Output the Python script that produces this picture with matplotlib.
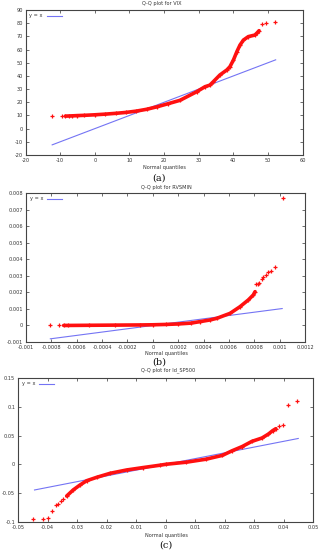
import matplotlib
matplotlib.use("Agg")
import matplotlib.pyplot as plt

W, H = 322, 550

# ---- panel (a): VIX ----
vix_x = [-12.3, -9.6, -8.5, -7.5, -6.5, -5, -3, 0, 3, 6, 9, 12, 15, 18, 21, 24.6,
         29.4, 31.8, 33.2, 34.2, 36.1, 38.1, 39.0, 40.0, 41.0, 41.9, 42.9, 44.3,
         46.2, 46.9, 47.4, 48.2, 49.4, 52.0]
vix_y = [9.4, 9.4, 9.5, 9.6, 9.7, 9.9, 10.1, 10.5, 11.0, 11.6, 12.3, 13.3, 14.7,
         16.6, 18.8, 21.5, 28.0, 31.8, 33.0, 35.6, 40.7, 44.5, 47.0, 52.0, 58.4,
         63.4, 67.2, 69.8, 71.0, 72.8, 74.3, 79.4, 80.4, 81.2]
vix_ref = [-12.3, 52.2]

# ---- panel (b): RVSMIN ----
rvs_x = [-0.000808, -0.000738, -0.000703, -0.00067, -0.0005, -0.0003, -0.0001, 0.0,
         0.0001, 0.0002, 0.0003, 0.000372, 0.00045, 0.000504, 0.000609, 0.000687,
         0.000753, 0.000792, 0.000806, 0.000814, 0.00083, 0.00084, 0.000858,
         0.000871, 0.000892, 0.00091, 0.000928, 0.000963, 0.001024]
rvs_y = [0.0, 0.0, 0.0, 0.0, 0.00001, 0.00002, 0.00003, 0.00004, 0.00006, 0.00009,
         0.00014, 0.00023, 0.00033, 0.00043, 0.00073, 0.00113, 0.00154, 0.00184,
         0.00204, 0.00250, 0.00252, 0.00255, 0.0028, 0.00294, 0.00307, 0.0032,
         0.0033, 0.00355, 0.0077]
rvs_ref = [-0.000808, 0.00102]

# ---- panel (c): ld_SP500 ----
sp_x = [-0.0448, -0.0414, -0.0397, -0.0384, -0.0372, -0.0363, -0.0355, -0.0346,
        -0.0335, -0.0313, -0.029, -0.0267, -0.0233, -0.0188, -0.0132, -0.0076,
        -0.002, 0.0003, 0.007, 0.0137, 0.0193, 0.0226, 0.026, 0.0293, 0.0327,
        0.0349, 0.0363, 0.0374, 0.0386, 0.0397, 0.0416, 0.0447]
sp_y = [-0.0953, -0.0953, -0.0936, -0.0803, -0.0705, -0.0693, -0.063, -0.0606,
        -0.0549, -0.0444, -0.0358, -0.0283, -0.0224, -0.0155, -0.0097, -0.0055,
        -0.0015, 0.0003, 0.0038, 0.009, 0.0157, 0.0237, 0.031, 0.040, 0.0458,
        0.0527, 0.0585, 0.062, 0.067, 0.0683, 0.1025, 0.1095]
sp_ref = [-0.0444, 0.045]

# tick labels (gnuplot style)
vix_xticks = [-20, -10, 0, 10, 20, 30, 40, 50, 60]
vix_yticks = [-20, -10, 0, 10, 20, 30, 40, 50, 60, 70, 80, 90]
rvs_xticks = [-0.001, -0.0008, -0.0006, -0.0004, -0.0002, 0, 0.0002, 0.0004,
              0.0006, 0.0008, 0.001, 0.0012]
rvs_xlabels = ["-0.001", "-0.0008", "-0.0006", "-0.0004", "-0.0002", "0", "0.0002",
               "0.0004", "0.0006", "0.0008", "0.001", "0.0012"]
rvs_yticks = [-0.001, 0, 0.001, 0.002, 0.003, 0.004, 0.005, 0.006, 0.007, 0.008]
rvs_ylabels = ["-0.001", "0", "0.001", "0.002", "0.003", "0.004", "0.005", "0.006",
               "0.007", "0.008"]
sp_xticks = [-0.05, -0.04, -0.03, -0.02, -0.01, 0, 0.01, 0.02, 0.03, 0.04, 0.05]
sp_xlabels = ["-0.05", "-0.04", "-0.03", "-0.02", "-0.01", "0", "0.01", "0.02",
              "0.03", "0.04", "0.05"]
sp_yticks = [-0.1, -0.05, 0, 0.05, 0.1, 0.15]
sp_ylabels = ["-0.1", "-0.05", "0", "0.05", "0.1", "0.15"]

RED = "#ff1010"
BLUE = "#7474f4"
TXT = "#333333"
FS = 3.6


def px_rect(left, top, right, bottom):
    return [left / W, 1 - bottom / H, (right - left) / W, (bottom - top) / H]


def qq_panel(fig, rect, xs, ys, ref, xt, xl, yt, yl, xlim, ylim, n_dense):
    ax = fig.add_axes(rect)
    ax.plot(ref, ref, color=BLUE, lw=0.8, label="y = x", zorder=2)
    # dense central part drawn as thick stroke, all points as '+'
    lo, hi = n_dense
    ax.plot(xs[lo:hi], ys[lo:hi], color=RED, lw=2.6, solid_capstyle="round", zorder=3)
    ax.plot(xs, ys, ls="none", marker="+", ms=3.5, mew=0.9, color=RED, zorder=4)
    ax.set_xlim(*xlim)
    ax.set_ylim(*ylim)
    ax.set_xticks(xt)
    ax.set_xticklabels(xl)
    ax.set_yticks(yt)
    ax.set_yticklabels(yl)
    ax.tick_params(direction="in", length=2, width=0.5, labelsize=FS, colors=TXT,
                   top=True, right=True, pad=2)
    for s in ax.spines.values():
        s.set_linewidth(0.8)
        s.set_color("#444444")
    leg = ax.legend(loc="upper left", frameon=False, fontsize=FS, markerfirst=False,
                    handlelength=3, borderaxespad=0.3, handletextpad=0.8)
    for t in leg.get_texts():
        t.set_color(TXT)
    return ax


fig = plt.figure(figsize=(W / 100, H / 100), dpi=100)

qq_panel(fig, px_rect(25.5, 10, 302.7, 155), vix_x, vix_y, vix_ref,
         vix_xticks, [str(v) for v in vix_xticks], vix_yticks,
         [str(v) for v in vix_yticks], (-20, 60), (-20, 90), (2, 31))
qq_panel(fig, px_rect(26, 193, 305, 342), rvs_x, rvs_y, rvs_ref,
         rvs_xticks, rvs_xlabels, rvs_yticks, rvs_ylabels,
         (-0.001, 0.0012), (-0.001, 0.008), (2, 19))
qq_panel(fig, px_rect(18, 378, 313, 522), sp_x, sp_y, sp_ref,
         sp_xticks, sp_xlabels, sp_yticks, sp_ylabels,
         (-0.05, 0.05), (-0.1, 0.15), (8, 28))


def ftext(x, y, s, **kw):
    fig.text(x / W, 1 - y / H, s, ha="center", va="center", **kw)


ftext(162, 3.5, "Q-Q plot for VIX", fontsize=FS, color=TXT)
ftext(164, 168, "Normal quantiles", fontsize=FS, color=TXT)
ftext(159, 178.5, "(a)", fontsize=7, family="DejaVu Serif", color="#111111")

ftext(166, 187, "Q-Q plot for RVSMIN", fontsize=FS, color=TXT)
ftext(166, 353, "Normal quantiles", fontsize=FS, color=TXT)
ftext(159, 362, "(b)", fontsize=7, family="DejaVu Serif", color="#111111")

ftext(168, 370, "Q-Q plot for ld_SP500", fontsize=FS, color=TXT)
ftext(166, 535, "Normal quantiles", fontsize=FS, color=TXT)
ftext(166, 545, "(c)", fontsize=7, family="DejaVu Serif", color="#111111")

fig.savefig("out.png", dpi=100)
